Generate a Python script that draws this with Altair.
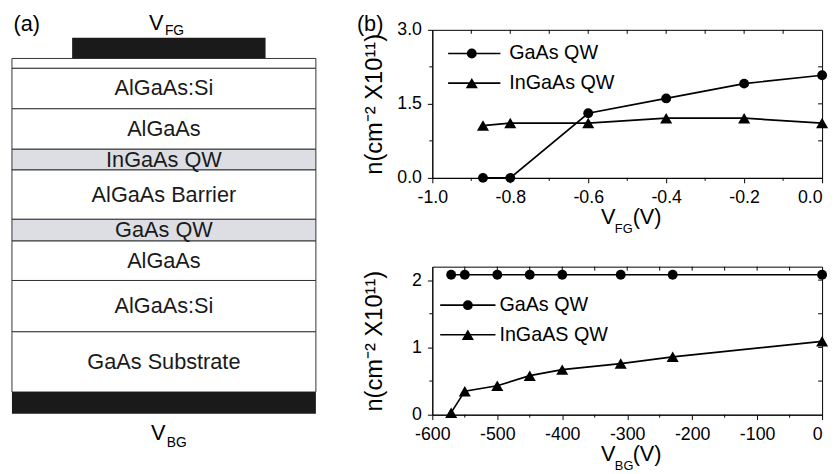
import altair as alt
import pandas as pd

FONT = "Liberation Sans"

# ---------------- panel (a): heterostructure layer stack ----------------
layer_names = ["", "AlGaAs:Si", "AlGaAs", "InGaAs QW", "AlGaAs Barrier",
               "GaAs QW", "AlGaAs", "AlGaAs:Si", "GaAs Substrate"]
layer_thickness = [10, 41, 41, 21, 50, 22, 40, 52, 61]
layer_is_qw = [0, 0, 0, 1, 0, 1, 0, 0, 0]
gate_thickness = 21
back_thickness = 22

# ---------------- panel (b) top: front-gate sweep ----------------
vfg = [-0.87, -0.80, -0.60, -0.40, -0.20, 0.00]
n_gaas_fg = [0.0, 0.0, 1.31, 1.61, 1.91, 2.08]
n_ingaas_fg = [1.06, 1.11, 1.11, 1.21, 1.21, 1.11]
fg_major = [-1.0, -0.8, -0.6, -0.4, -0.2, 0.0]
fg_minor = [-0.9, -0.7, -0.5, -0.3, -0.1]
fg_all = [-0.9, -0.8, -0.7, -0.6, -0.5, -0.4, -0.3, -0.2, -0.1]
nfg_major = [0.0, 1.5, 3.0]
nfg_minor = [0.75, 2.25]
nfg_right = [0.75, 1.5, 2.25]
legend_fg = ["GaAs QW", "InGaAs QW"]

# ---------------- panel (b) bottom: back-gate sweep ----------------
vbg = [-571, -550, -500, -450, -400, -310, -230, 0]
n_gaas_bg = [2.08, 2.08, 2.08, 2.08, 2.08, 2.08, 2.08, 2.08]
n_ingaas_bg = [0.03, 0.35, 0.43, 0.58, 0.67, 0.76, 0.86, 1.09]
bg_major = [-600, -500, -400, -300, -200, -100, 0]
bg_minor = [-550, -450, -350, -250, -150, -50]
bg_all = [-550, -500, -450, -400, -350, -300, -250, -200, -150, -100, -50]
nbg_major = [0, 1, 2]
nbg_minor = [0.5, 1.5]
nbg_right = [0.5, 1.0, 1.5, 2.0]
legend_bg = ["GaAs QW", "InGaAS QW"]

SERIES = ["GaAs", "InGaAs"]
SHAPES = ["circle", "triangle-up"]
SIZES = [100, 150]

# ======================= panel (a) =======================
W, H = 395, 150          # each plot of panel (b)
VSP = 90                 # gap between the two plots of panel (b)
WA = 330                 # panel (a) width
HSP = 99                 # gap between panel (a) and panel (b) plot areas
HA = 2 * H + VSP
stack_top = 29
xl, xr = 3, 311
rows = []
y = stack_top
for name, t, qw in zip(layer_names, layer_thickness, layer_is_qw):
    rows.append(dict(x0=xl, x1=xr, y0=y, y1=y + t, ym=y + t / 2, name=name,
                     fill="#dcdee3" if qw else "white"))
    y += t
stack_bottom = y
df_layers = pd.DataFrame(rows)
df_metal = pd.DataFrame([
    dict(x0=64, x1=260, y0=stack_top - gate_thickness, y1=stack_top),
    dict(x0=xl, x1=xr, y0=stack_bottom, y1=stack_bottom + back_thickness),
])

XA = alt.Scale(domain=[0, WA])
YA = alt.Scale(domain=[0, HA], reverse=True)

layers_rect = alt.Chart(df_layers).mark_rect(stroke="#333333", strokeWidth=1).encode(
    x=alt.X("x0:Q", scale=XA, axis=None), x2="x1:Q",
    y=alt.Y("y0:Q", scale=YA, axis=None), y2="y1:Q",
    fill=alt.Fill("fill:N", scale=None),
)
metal_rect = alt.Chart(df_metal).mark_rect(color="#1a1a1a").encode(
    x=alt.X("x0:Q", scale=XA, axis=None), x2="x1:Q",
    y=alt.Y("y0:Q", scale=YA, axis=None), y2="y1:Q",
)
layer_text = alt.Chart(df_layers).mark_text(
    font=FONT, fontSize=22, color="#1a1a1a", baseline="middle").encode(
    x=alt.value((xl + xr) / 2),
    y=alt.Y("ym:Q", scale=YA, axis=None),
    text="name:N",
)


def txt(s, x, y, size, align="left", baseline="alphabetic"):
    return alt.Chart(pd.DataFrame({"t": [s]})).mark_text(
        font=FONT, fontSize=size, color="black", align=align, baseline=baseline
    ).encode(x=alt.value(x), y=alt.value(y), text="t:N")


gate_label_y = stack_top - gate_thickness - 8
back_label_y = stack_bottom + back_thickness + 27
panel_a = alt.layer(
    layers_rect, metal_rect, layer_text,
    txt("(a)", 18, -6, 22, align="center", baseline="middle"),
    txt("V", 142, gate_label_y, 22), txt("FG", 158, gate_label_y + 5, 14),
    txt("V", 144, back_label_y, 22), txt("BG", 160, back_label_y + 7, 14),
).properties(width=WA, height=HA,
             view=alt.ViewBackground(stroke="transparent"))

# ======================= panel (b) =======================


def neg_fmt(fmt):
    return ("datum.value < 0 ? '-' + format(-datum.value, '%s') : format(datum.value, '%s')"
            % (fmt, fmt))


def make_panel(xv, ya, yb, xdom, xmajor, xminor, xall, xfmt,
               ydom, ymajor, yminor, yright, yfmt,
               leg_labels, leg_x, leg_ys, sub):
    last = xmajor[-1]
    X = alt.X("v:Q", scale=alt.Scale(domain=xdom, nice=False, zero=False),
              axis=alt.Axis(values=xmajor, labelExpr=neg_fmt(xfmt), tickSize=5,
                            labelPadding=6, labelFontSize=18, labelFlush=False,
                            labelAlign={"condition": {"test": "datum.value == %s" % last,
                                                      "value": "right"},
                                        "value": "center"},
                            labelOverlap=False, grid=False, title=None))
    Y = alt.Y("n:Q", scale=alt.Scale(domain=ydom, nice=False, zero=False),
              axis=alt.Axis(values=ymajor, labelExpr=neg_fmt(yfmt), tickSize=5,
                            labelPadding=6, labelFontSize=18, grid=False,
                            title="n(cm\u207b\u00b2 X10\u00b9\u00b9)", titleFontSize=24,
                            titlePadding=10, minExtent=36, maxExtent=36))
    n = len(xv)
    df = pd.DataFrame({"v": xv + xv, "n": ya + yb,
                       "s": [SERIES[0]] * n + [SERIES[1]] * n})
    line = alt.Chart(df).mark_line(color="black", strokeWidth=1.7).encode(
        x=X, y=Y, detail="s:N")
    pts = alt.Chart(df).mark_point(filled=True, opacity=1, color="black").encode(
        x=X, y=Y,
        shape=alt.Shape("s:N", scale=alt.Scale(domain=SERIES, range=SHAPES), legend=None),
        size=alt.Size("s:N", scale=alt.Scale(domain=SERIES, range=SIZES), legend=None))

    def xticks(vals, y0, y1):
        return alt.Chart(pd.DataFrame({"v": vals})).mark_rule(
            color="black", strokeWidth=1).encode(x=X, y=alt.value(y0), y2=alt.value(y1))

    def yticks(vals, x0, x1):
        return alt.Chart(pd.DataFrame({"n": vals})).mark_rule(
            color="black", strokeWidth=1).encode(y=Y, x=alt.value(x0), x2=alt.value(x1))

    ticks = [xticks(xminor, H, H + 3), xticks(xall, 0, 4),
             yticks(yminor, -3, 0), yticks(yright, W - 4, W)]

    lx0, lx1, lxm, lxt = leg_x
    legend = []
    for lab, shp, sz, ly in zip(leg_labels, SHAPES, SIZES, leg_ys):
        d = pd.DataFrame({"t": [lab]})
        legend.append(alt.Chart(d).mark_rule(color="black", strokeWidth=1.7).encode(
            x=alt.value(lx0), x2=alt.value(lx1), y=alt.value(ly)))
        legend.append(alt.Chart(d).mark_point(
            filled=True, opacity=1, color="black", size=sz, shape=shp).encode(
            x=alt.value(lxm), y=alt.value(ly)))
        legend.append(alt.Chart(d).mark_text(
            font=FONT, fontSize=20, color="black", align="left", baseline="middle").encode(
            x=alt.value(lxt), y=alt.value(ly), text="t:N"))

    xtitle = [txt("V", 171, H + 47, 22),
              txt(sub, 185, H + 56, 13),
              txt("(V)", 203, H + 47, 22)]

    return alt.layer(line, pts, *ticks, *legend, *xtitle).properties(
        width=W, height=H, view=alt.ViewBackground(stroke="black", strokeWidth=1))


top = make_panel(vfg, n_gaas_fg, n_ingaas_fg, [-1.0, 0.0], fg_major, fg_minor, fg_all, ".1f",
                 [0, 3.0], nfg_major, nfg_minor, nfg_right, ".1f",
                 legend_fg, (16, 69, 40, 78), [24, 54], "FG")
top = alt.layer(top, txt("(b)", -63, -6, 22, align="center", baseline="middle"))

bottom = make_panel(vbg, n_gaas_bg, n_ingaas_bg, [-600, 0], bg_major, bg_minor, bg_all, "d",
                    [0, 2.2], nbg_major, nbg_minor, nbg_right, "d",
                    legend_bg, (8, 64, 36, 68), [39, 69], "BG")

right = alt.vconcat(top, bottom, spacing=VSP, bounds="flush")

chart = alt.hconcat(panel_a, right, spacing=HSP, bounds="flush").properties(
    padding={"left": 0, "top": 0, "right": 0, "bottom": 0}
).configure_view(stroke="transparent").configure_axis(
    labelFont=FONT, titleFont=FONT, labelColor="black", titleColor="black",
    domainColor="black", tickColor="black", titleFontWeight="normal",
)

chart.save("out.html", embed_options={"renderer": "svg", "actions": False})
